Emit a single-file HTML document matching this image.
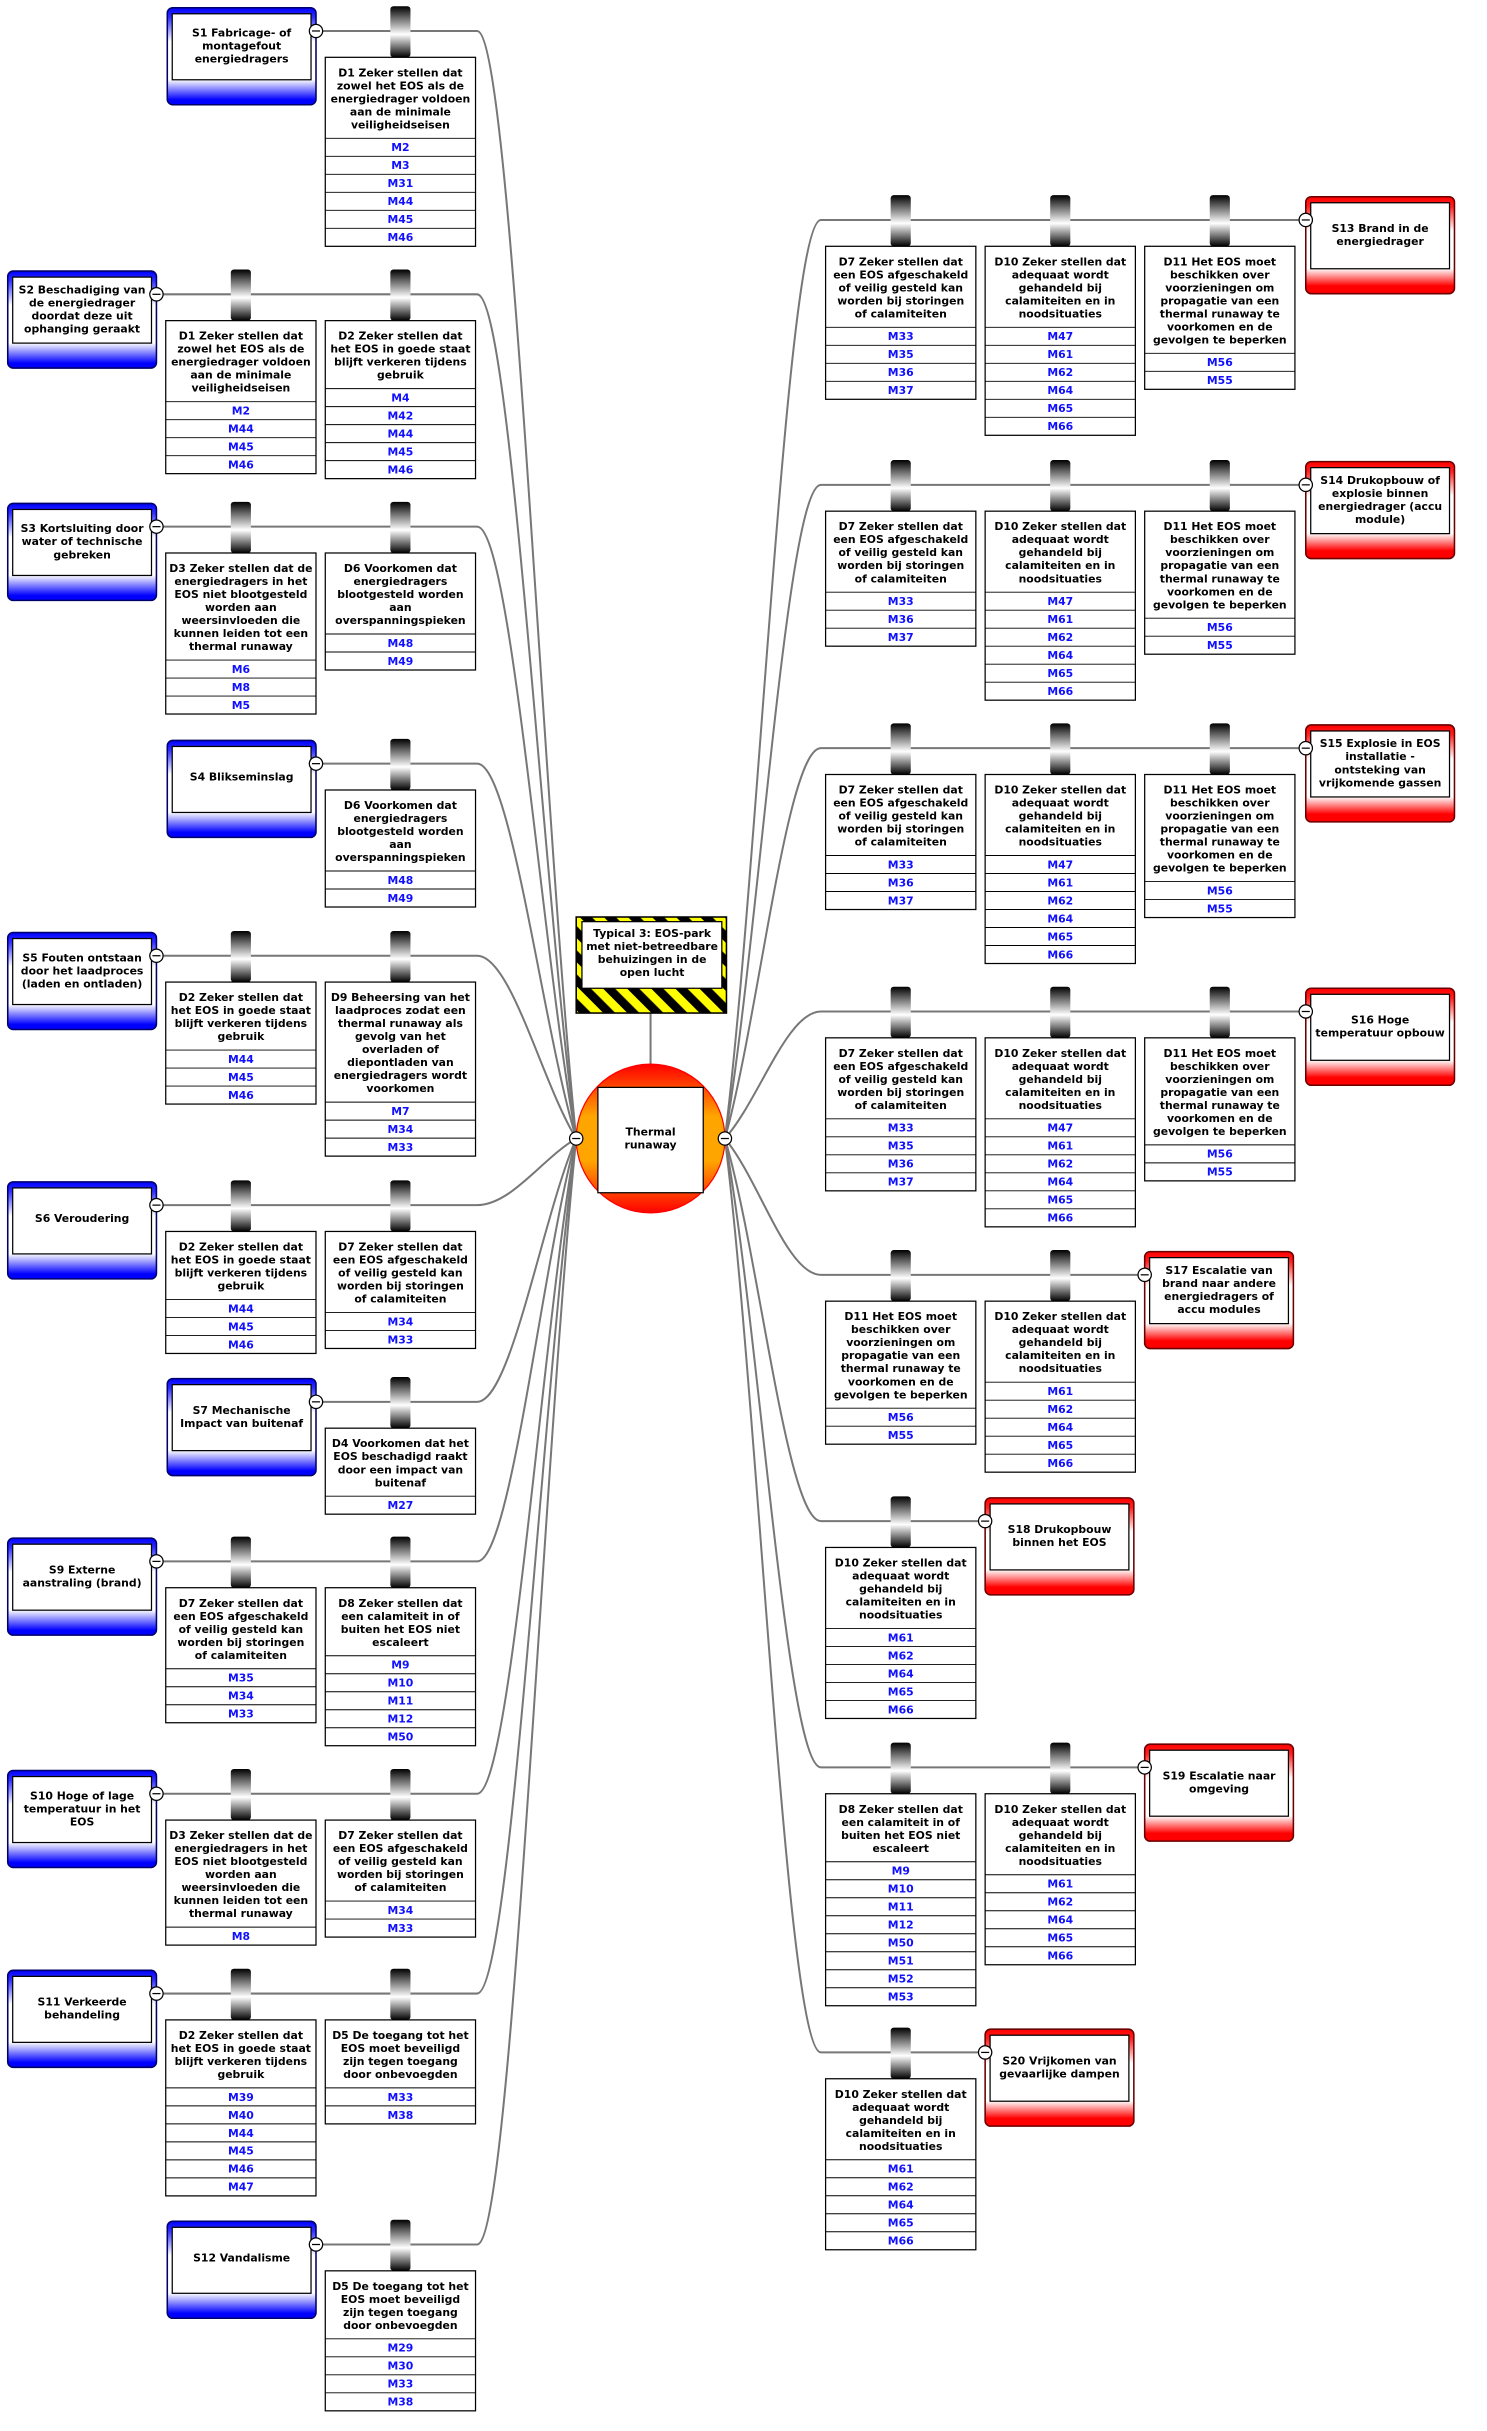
<!DOCTYPE html>
<html><head><meta charset="utf-8"><style>
html,body{margin:0;padding:0;background:#fff;}
svg{display:block}
.t{font-family:"DejaVu Sans","Liberation Sans",sans-serif;font-weight:bold;font-size:7px;text-anchor:middle;fill:#000}
.m{fill:#1010ff}
.b{fill:#fff;stroke:#000;stroke-width:.8}
.r{stroke:#000;stroke-width:.6;fill:none}
.c{fill:none;stroke:#777;stroke-width:1.3}
</style></head><body>
<svg width="1487" height="2431" viewBox="0 0 960 1569.4" preserveAspectRatio="none" xmlns="http://www.w3.org/2000/svg">
<defs>
<linearGradient id="pg" x1="0" y1="0" x2="0" y2="1"><stop offset="0" stop-color="#000"/><stop offset="0.55" stop-color="#fff"/><stop offset="1" stop-color="#000"/></linearGradient>
<linearGradient id="bg" x1="0" y1="0" x2="0" y2="1"><stop offset="0" stop-color="#0000ff"/><stop offset="0.1" stop-color="#3030ff"/><stop offset="0.35" stop-color="#fff"/><stop offset="0.74" stop-color="#fff"/><stop offset="0.95" stop-color="#0000ff"/></linearGradient>
<linearGradient id="rg" x1="0" y1="0" x2="0" y2="1"><stop offset="0" stop-color="#ff0000"/><stop offset="0.1" stop-color="#ff2020"/><stop offset="0.35" stop-color="#fff"/><stop offset="0.74" stop-color="#fff"/><stop offset="0.92" stop-color="#ff0000"/></linearGradient>
<linearGradient id="og" x1="0" y1="0" x2="0" y2="1"><stop offset="0" stop-color="#ff0000"/><stop offset="0.35" stop-color="#ffa500"/><stop offset="0.65" stop-color="#ffa500"/><stop offset="1" stop-color="#ff0000"/></linearGradient>
<pattern id="hz" width="11" height="11" patternUnits="userSpaceOnUse" patternTransform="rotate(-45)"><rect width="11" height="11" fill="#ffff00"/><rect width="5.5" height="11" fill="#000"/></pattern>
<g id="pipe"><rect x="-6.5" y="-16" width="13" height="33" rx="2" fill="url(#pg)"/></g>
<g id="tb"><rect x="0" y="0" width="96" height="62.6" rx="3.5" fill="url(#bg)" stroke="#00006a" stroke-width="1"/><rect x="3.2" y="3.9" width="89.6" height="42.6" fill="#fff" stroke="#000" stroke-width=".8"/></g>
<g id="tr"><rect x="0" y="0" width="96" height="62.6" rx="3.5" fill="url(#rg)" stroke="#6a0000" stroke-width="1"/><rect x="3.2" y="3.9" width="89.6" height="42.6" fill="#fff" stroke="#000" stroke-width=".8"/></g>
<g id="cn"><circle r="4.3" fill="#fff" stroke="#000" stroke-width=".8"/><path d="M-2.6 0h5.2" stroke="#000" stroke-width=".8"/></g>
</defs>

<!-- connectors lines left -->
<path class="c" d="M204 20H308C330 20 350 520.5 372 735"/>
<path class="c" d="M101 190H308C330 190 350 571.5 372 735"/>
<path class="c" d="M101 340H308C330 340 350 616.5 372 735"/>
<path class="c" d="M204 493H308C330 493 350 662.4 372 735"/>
<path class="c" d="M101 617H308C330 617 350 699.6 372 735"/>
<path class="c" d="M101 778H308C330 778 350 747.9 372 735"/>
<path class="c" d="M204 905H308C330 905 350 786 372 735"/>
<path class="c" d="M101 1008H308C330 1008 350 813.9 372 735"/>
<path class="c" d="M101 1158H308C330 1158 350 858.3 372 735"/>
<path class="c" d="M101 1287H308C330 1287 350 897 372 735"/>
<path class="c" d="M204 1449H308C330 1449 350 949.2 372 735"/>
<!-- right -->
<path class="c" d="M468 735C490 557.1 508 142 530 142H843"/>
<path class="c" d="M468 735C490 605.4 508 313 530 313H843"/>
<path class="c" d="M468 735C490 656.4 508 483 530 483H843"/>
<path class="c" d="M468 735C490 710.4 508 653 530 653H843"/>
<path class="c" d="M468 735C490 761.4 508 823 530 823H739"/>
<path class="c" d="M468 735C490 809.1 508 982 530 982H636"/>
<path class="c" d="M468 735C490 856.5 508 1141 530 1141H739"/>
<path class="c" d="M468 735C490 912 508 1325 530 1325H636"/>
<path class="c" d="M420 654V690"/>

<!-- center -->
<rect x="372" y="592" width="97" height="62" fill="url(#hz)" stroke="#000" stroke-width="1"/>
<rect x="375.7" y="595" width="90.3" height="43" fill="#fff" stroke="#000" stroke-width=".8"/>
<text class="t" y="605"><tspan x="421">Typical 3: EOS-park</tspan><tspan x="421" dy="8.4">met niet-betreedbare</tspan><tspan x="421" dy="8.4">behuizingen in de</tspan><tspan x="421" dy="8.4">open lucht</tspan></text>
<circle cx="420" cy="735" r="48" fill="url(#og)" stroke="#f00" stroke-width=".8"/>
<rect x="386" y="702" width="68" height="68" fill="#fff" stroke="#000" stroke-width=".8"/>
<text class="t" y="733"><tspan x="420">Thermal</tspan><tspan x="420" dy="8.4">runaway</tspan></text>
<use href="#cn" x="372" y="735"/><use href="#cn" x="468" y="735"/>

<!-- threats -->
<use href="#tb" x="108" y="5"/><text class="t" y="23.6"><tspan x="156">S1 Fabricage- of</tspan><tspan x="156" dy="8.4">montagefout</tspan><tspan x="156" dy="8.4">energiedragers</tspan></text><use href="#cn" x="204" y="20"/>
<use href="#tb" x="5" y="175"/><text class="t" y="189.4"><tspan x="53">S2 Beschadiging van</tspan><tspan x="53" dy="8.4">de energiedrager</tspan><tspan x="53" dy="8.4">doordat deze uit</tspan><tspan x="53" dy="8.4">ophanging geraakt</tspan></text><use href="#cn" x="101" y="190"/>
<use href="#tb" x="5" y="325"/><text class="t" y="343.6"><tspan x="53">S3 Kortsluiting door</tspan><tspan x="53" dy="8.4">water of technische</tspan><tspan x="53" dy="8.4">gebreken</tspan></text><use href="#cn" x="101" y="340"/>
<use href="#tb" x="108" y="478"/><text class="t" y="504"><tspan x="156">S4 Blikseminslag</tspan></text><use href="#cn" x="204" y="493"/>
<use href="#tb" x="5" y="602"/><text class="t" y="620.6"><tspan x="53">S5 Fouten ontstaan</tspan><tspan x="53" dy="8.4">door het laadproces</tspan><tspan x="53" dy="8.4">(laden en ontladen)</tspan></text><use href="#cn" x="101" y="617"/>
<use href="#tb" x="5" y="763"/><text class="t" y="789"><tspan x="53">S6 Veroudering</tspan></text><use href="#cn" x="101" y="778"/>
<use href="#tb" x="108" y="890"/><text class="t" y="912.8"><tspan x="156">S7 Mechanische</tspan><tspan x="156" dy="8.4">Impact van buitenaf</tspan></text><use href="#cn" x="204" y="905"/>
<use href="#tb" x="5" y="993"/><text class="t" y="1015.8"><tspan x="53">S9 Externe</tspan><tspan x="53" dy="8.4">aanstraling (brand)</tspan></text><use href="#cn" x="101" y="1008"/>
<use href="#tb" x="5" y="1143"/><text class="t" y="1161.6"><tspan x="53">S10 Hoge of lage</tspan><tspan x="53" dy="8.4">temperatuur in het</tspan><tspan x="53" dy="8.4">EOS</tspan></text><use href="#cn" x="101" y="1158"/>
<use href="#tb" x="5" y="1272"/><text class="t" y="1294.8"><tspan x="53">S11 Verkeerde</tspan><tspan x="53" dy="8.4">behandeling</tspan></text><use href="#cn" x="101" y="1287"/>
<use href="#tb" x="108" y="1434"/><text class="t" y="1460"><tspan x="156">S12 Vandalisme</tspan></text><use href="#cn" x="204" y="1449"/>

<!-- consequences -->
<use href="#tr" x="843" y="127"/><text class="t" y="149.8"><tspan x="891">S13 Brand in de</tspan><tspan x="891" dy="8.4">energiedrager</tspan></text><use href="#cn" x="843" y="142"/>
<use href="#tr" x="843" y="298"/><text class="t" y="312.4"><tspan x="891">S14 Drukopbouw of</tspan><tspan x="891" dy="8.4">explosie binnen</tspan><tspan x="891" dy="8.4">energiedrager (accu</tspan><tspan x="891" dy="8.4">module)</tspan></text><use href="#cn" x="843" y="313"/>
<use href="#tr" x="843" y="468"/><text class="t" y="482.4"><tspan x="891">S15 Explosie in EOS</tspan><tspan x="891" dy="8.4">installatie -</tspan><tspan x="891" dy="8.4">ontsteking van</tspan><tspan x="891" dy="8.4">vrijkomende gassen</tspan></text><use href="#cn" x="843" y="483"/>
<use href="#tr" x="843" y="638"/><text class="t" y="660.8"><tspan x="891">S16 Hoge</tspan><tspan x="891" dy="8.4">temperatuur opbouw</tspan></text><use href="#cn" x="843" y="653"/>
<use href="#tr" x="739" y="808"/><text class="t" y="822.4"><tspan x="787">S17 Escalatie van</tspan><tspan x="787" dy="8.4">brand naar andere</tspan><tspan x="787" dy="8.4">energiedragers of</tspan><tspan x="787" dy="8.4">accu modules</tspan></text><use href="#cn" x="739" y="823"/>
<use href="#tr" x="636" y="967"/><text class="t" y="989.8"><tspan x="684">S18 Drukopbouw</tspan><tspan x="684" dy="8.4">binnen het EOS</tspan></text><use href="#cn" x="636" y="982"/>
<use href="#tr" x="739" y="1126"/><text class="t" y="1148.8"><tspan x="787">S19 Escalatie naar</tspan><tspan x="787" dy="8.4">omgeving</tspan></text><use href="#cn" x="739" y="1141"/>
<use href="#tr" x="636" y="1310"/><text class="t" y="1332.8"><tspan x="684">S20 Vrijkomen van</tspan><tspan x="684" dy="8.4">gevaarlijke dampen</tspan></text><use href="#cn" x="636" y="1325"/>

<!-- LEFT BARRIERS -->
<!-- S1 D1 -->
<g transform="translate(258.5,20)"><use href="#pipe"/><rect class="b" x="-48.5" y="17" width="97" height="122.02"/>
<text class="t" y="29.3"><tspan x="0">D1 Zeker stellen dat</tspan><tspan x="0" dy="8.4">zowel het EOS als de</tspan><tspan x="0" dy="8.4">energiedrager voldoen</tspan><tspan x="0" dy="8.4">aan de minimale</tspan><tspan x="0" dy="8.4">veiligheidseisen</tspan></text>
<path class="r" d="M-48.5 69.3h97M-48.5 80.92h97M-48.5 92.54h97M-48.5 104.16h97M-48.5 115.78h97M-48.5 127.4h97"/>
<text class="t m" y="77.6"><tspan x="0">M2</tspan><tspan x="0" dy="11.62">M3</tspan><tspan x="0" dy="11.62">M31</tspan><tspan x="0" dy="11.62">M44</tspan><tspan x="0" dy="11.62">M45</tspan><tspan x="0" dy="11.62">M46</tspan></text></g>
<!-- S2 D1 -->
<g transform="translate(155.5,190)"><use href="#pipe"/><rect class="b" x="-48.5" y="17" width="97" height="98.78"/>
<text class="t" y="29.3"><tspan x="0">D1 Zeker stellen dat</tspan><tspan x="0" dy="8.4">zowel het EOS als de</tspan><tspan x="0" dy="8.4">energiedrager voldoen</tspan><tspan x="0" dy="8.4">aan de minimale</tspan><tspan x="0" dy="8.4">veiligheidseisen</tspan></text>
<path class="r" d="M-48.5 69.3h97M-48.5 80.92h97M-48.5 92.54h97M-48.5 104.16h97"/>
<text class="t m" y="77.6"><tspan x="0">M2</tspan><tspan x="0" dy="11.62">M44</tspan><tspan x="0" dy="11.62">M45</tspan><tspan x="0" dy="11.62">M46</tspan></text></g>
<!-- S2 D2 -->
<g transform="translate(258.5,190)"><use href="#pipe"/><rect class="b" x="-48.5" y="17" width="97" height="102"/>
<text class="t" y="29.3"><tspan x="0">D2 Zeker stellen dat</tspan><tspan x="0" dy="8.4">het EOS in goede staat</tspan><tspan x="0" dy="8.4">blijft verkeren tijdens</tspan><tspan x="0" dy="8.4">gebruik</tspan></text>
<path class="r" d="M-48.5 60.9h97M-48.5 72.52h97M-48.5 84.14h97M-48.5 95.76h97M-48.5 107.38h97"/>
<text class="t m" y="69.2"><tspan x="0">M4</tspan><tspan x="0" dy="11.62">M42</tspan><tspan x="0" dy="11.62">M44</tspan><tspan x="0" dy="11.62">M45</tspan><tspan x="0" dy="11.62">M46</tspan></text></g>
<!-- S3 D3 -->
<g transform="translate(155.5,340)"><use href="#pipe"/><rect class="b" x="-48.5" y="17" width="97" height="103.96"/>
<text class="t" y="29.3"><tspan x="0">D3 Zeker stellen dat de</tspan><tspan x="0" dy="8.4">energiedragers in het</tspan><tspan x="0" dy="8.4">EOS niet blootgesteld</tspan><tspan x="0" dy="8.4">worden aan</tspan><tspan x="0" dy="8.4">weersinvloeden die</tspan><tspan x="0" dy="8.4">kunnen leiden tot een</tspan><tspan x="0" dy="8.4">thermal runaway</tspan></text>
<path class="r" d="M-48.5 86.1h97M-48.5 97.72h97M-48.5 109.34h97"/>
<text class="t m" y="94.4"><tspan x="0">M6</tspan><tspan x="0" dy="11.62">M8</tspan><tspan x="0" dy="11.62">M5</tspan></text></g>
<!-- S3 D6 -->
<g transform="translate(258.5,340)"><use href="#pipe"/><rect class="b" x="-48.5" y="17" width="97" height="75.54"/>
<text class="t" y="29.3"><tspan x="0">D6 Voorkomen dat</tspan><tspan x="0" dy="8.4">energiedragers</tspan><tspan x="0" dy="8.4">blootgesteld worden</tspan><tspan x="0" dy="8.4">aan</tspan><tspan x="0" dy="8.4">overspanningspieken</tspan></text>
<path class="r" d="M-48.5 69.3h97M-48.5 80.92h97"/>
<text class="t m" y="77.6"><tspan x="0">M48</tspan><tspan x="0" dy="11.62">M49</tspan></text></g>
<!-- S4 D6 -->
<g transform="translate(258.5,493)"><use href="#pipe"/><rect class="b" x="-48.5" y="17" width="97" height="75.54"/>
<text class="t" y="29.3"><tspan x="0">D6 Voorkomen dat</tspan><tspan x="0" dy="8.4">energiedragers</tspan><tspan x="0" dy="8.4">blootgesteld worden</tspan><tspan x="0" dy="8.4">aan</tspan><tspan x="0" dy="8.4">overspanningspieken</tspan></text>
<path class="r" d="M-48.5 69.3h97M-48.5 80.92h97"/>
<text class="t m" y="77.6"><tspan x="0">M48</tspan><tspan x="0" dy="11.62">M49</tspan></text></g>
<!-- S5 D2 -->
<g transform="translate(155.5,617)"><use href="#pipe"/><rect class="b" x="-48.5" y="17" width="97" height="78.76"/>
<text class="t" y="29.3"><tspan x="0">D2 Zeker stellen dat</tspan><tspan x="0" dy="8.4">het EOS in goede staat</tspan><tspan x="0" dy="8.4">blijft verkeren tijdens</tspan><tspan x="0" dy="8.4">gebruik</tspan></text>
<path class="r" d="M-48.5 60.9h97M-48.5 72.52h97M-48.5 84.14h97"/>
<text class="t m" y="69.2"><tspan x="0">M44</tspan><tspan x="0" dy="11.62">M45</tspan><tspan x="0" dy="11.62">M46</tspan></text></g>
<!-- S5 D9 -->
<g transform="translate(258.5,617)"><use href="#pipe"/><rect class="b" x="-48.5" y="17" width="97" height="112.36"/>
<text class="t" y="29.3"><tspan x="0">D9 Beheersing van het</tspan><tspan x="0" dy="8.4">laadproces zodat een</tspan><tspan x="0" dy="8.4">thermal runaway als</tspan><tspan x="0" dy="8.4">gevolg van het</tspan><tspan x="0" dy="8.4">overladen of</tspan><tspan x="0" dy="8.4">diepontladen van</tspan><tspan x="0" dy="8.4">energiedragers wordt</tspan><tspan x="0" dy="8.4">voorkomen</tspan></text>
<path class="r" d="M-48.5 94.5h97M-48.5 106.12h97M-48.5 117.74h97"/>
<text class="t m" y="102.8"><tspan x="0">M7</tspan><tspan x="0" dy="11.62">M34</tspan><tspan x="0" dy="11.62">M33</tspan></text></g>
<!-- S6 D2 -->
<g transform="translate(155.5,778)"><use href="#pipe"/><rect class="b" x="-48.5" y="17" width="97" height="78.76"/>
<text class="t" y="29.3"><tspan x="0">D2 Zeker stellen dat</tspan><tspan x="0" dy="8.4">het EOS in goede staat</tspan><tspan x="0" dy="8.4">blijft verkeren tijdens</tspan><tspan x="0" dy="8.4">gebruik</tspan></text>
<path class="r" d="M-48.5 60.9h97M-48.5 72.52h97M-48.5 84.14h97"/>
<text class="t m" y="69.2"><tspan x="0">M44</tspan><tspan x="0" dy="11.62">M45</tspan><tspan x="0" dy="11.62">M46</tspan></text></g>
<!-- S6 D7 -->
<g transform="translate(258.5,778)"><use href="#pipe"/><rect class="b" x="-48.5" y="17" width="97" height="75.54"/>
<text class="t" y="29.3"><tspan x="0">D7 Zeker stellen dat</tspan><tspan x="0" dy="8.4">een EOS afgeschakeld</tspan><tspan x="0" dy="8.4">of veilig gesteld kan</tspan><tspan x="0" dy="8.4">worden bij storingen</tspan><tspan x="0" dy="8.4">of calamiteiten</tspan></text>
<path class="r" d="M-48.5 69.3h97M-48.5 80.92h97"/>
<text class="t m" y="77.6"><tspan x="0">M34</tspan><tspan x="0" dy="11.62">M33</tspan></text></g>
<!-- S7 D4 -->
<g transform="translate(258.5,905)"><use href="#pipe"/><rect class="b" x="-48.5" y="17" width="97" height="55.52"/>
<text class="t" y="29.3"><tspan x="0">D4 Voorkomen dat het</tspan><tspan x="0" dy="8.4">EOS beschadigd raakt</tspan><tspan x="0" dy="8.4">door een impact van</tspan><tspan x="0" dy="8.4">buitenaf</tspan></text>
<path class="r" d="M-48.5 60.9h97"/>
<text class="t m" y="69.2"><tspan x="0">M27</tspan></text></g>
<!-- S9 D7 -->
<g transform="translate(155.5,1008)"><use href="#pipe"/><rect class="b" x="-48.5" y="17" width="97" height="87.16"/>
<text class="t" y="29.3"><tspan x="0">D7 Zeker stellen dat</tspan><tspan x="0" dy="8.4">een EOS afgeschakeld</tspan><tspan x="0" dy="8.4">of veilig gesteld kan</tspan><tspan x="0" dy="8.4">worden bij storingen</tspan><tspan x="0" dy="8.4">of calamiteiten</tspan></text>
<path class="r" d="M-48.5 69.3h97M-48.5 80.92h97M-48.5 92.54h97"/>
<text class="t m" y="77.6"><tspan x="0">M35</tspan><tspan x="0" dy="11.62">M34</tspan><tspan x="0" dy="11.62">M33</tspan></text></g>
<!-- S9 D8 -->
<g transform="translate(258.5,1008)"><use href="#pipe"/><rect class="b" x="-48.5" y="17" width="97" height="102"/>
<text class="t" y="29.3"><tspan x="0">D8 Zeker stellen dat</tspan><tspan x="0" dy="8.4">een calamiteit in of</tspan><tspan x="0" dy="8.4">buiten het EOS niet</tspan><tspan x="0" dy="8.4">escaleert</tspan></text>
<path class="r" d="M-48.5 60.9h97M-48.5 72.52h97M-48.5 84.14h97M-48.5 95.76h97M-48.5 107.38h97"/>
<text class="t m" y="69.2"><tspan x="0">M9</tspan><tspan x="0" dy="11.62">M10</tspan><tspan x="0" dy="11.62">M11</tspan><tspan x="0" dy="11.62">M12</tspan><tspan x="0" dy="11.62">M50</tspan></text></g>
<!-- S10 D3 -->
<g transform="translate(155.5,1158)"><use href="#pipe"/><rect class="b" x="-48.5" y="17" width="97" height="80.72"/>
<text class="t" y="29.3"><tspan x="0">D3 Zeker stellen dat de</tspan><tspan x="0" dy="8.4">energiedragers in het</tspan><tspan x="0" dy="8.4">EOS niet blootgesteld</tspan><tspan x="0" dy="8.4">worden aan</tspan><tspan x="0" dy="8.4">weersinvloeden die</tspan><tspan x="0" dy="8.4">kunnen leiden tot een</tspan><tspan x="0" dy="8.4">thermal runaway</tspan></text>
<path class="r" d="M-48.5 86.1h97"/>
<text class="t m" y="94.4"><tspan x="0">M8</tspan></text></g>
<!-- S10 D7 -->
<g transform="translate(258.5,1158)"><use href="#pipe"/><rect class="b" x="-48.5" y="17" width="97" height="75.54"/>
<text class="t" y="29.3"><tspan x="0">D7 Zeker stellen dat</tspan><tspan x="0" dy="8.4">een EOS afgeschakeld</tspan><tspan x="0" dy="8.4">of veilig gesteld kan</tspan><tspan x="0" dy="8.4">worden bij storingen</tspan><tspan x="0" dy="8.4">of calamiteiten</tspan></text>
<path class="r" d="M-48.5 69.3h97M-48.5 80.92h97"/>
<text class="t m" y="77.6"><tspan x="0">M34</tspan><tspan x="0" dy="11.62">M33</tspan></text></g>
<!-- S11 D2 -->
<g transform="translate(155.5,1287)"><use href="#pipe"/><rect class="b" x="-48.5" y="17" width="97" height="113.62"/>
<text class="t" y="29.3"><tspan x="0">D2 Zeker stellen dat</tspan><tspan x="0" dy="8.4">het EOS in goede staat</tspan><tspan x="0" dy="8.4">blijft verkeren tijdens</tspan><tspan x="0" dy="8.4">gebruik</tspan></text>
<path class="r" d="M-48.5 60.9h97M-48.5 72.52h97M-48.5 84.14h97M-48.5 95.76h97M-48.5 107.38h97M-48.5 119h97"/>
<text class="t m" y="69.2"><tspan x="0">M39</tspan><tspan x="0" dy="11.62">M40</tspan><tspan x="0" dy="11.62">M44</tspan><tspan x="0" dy="11.62">M45</tspan><tspan x="0" dy="11.62">M46</tspan><tspan x="0" dy="11.62">M47</tspan></text></g>
<!-- S11 D5 -->
<g transform="translate(258.5,1287)"><use href="#pipe"/><rect class="b" x="-48.5" y="17" width="97" height="67.14"/>
<text class="t" y="29.3"><tspan x="0">D5 De toegang tot het</tspan><tspan x="0" dy="8.4">EOS moet beveiligd</tspan><tspan x="0" dy="8.4">zijn tegen toegang</tspan><tspan x="0" dy="8.4">door onbevoegden</tspan></text>
<path class="r" d="M-48.5 60.9h97M-48.5 72.52h97"/>
<text class="t m" y="69.2"><tspan x="0">M33</tspan><tspan x="0" dy="11.62">M38</tspan></text></g>
<!-- S12 D5 -->
<g transform="translate(258.5,1449)"><use href="#pipe"/><rect class="b" x="-48.5" y="17" width="97" height="90.38"/>
<text class="t" y="29.3"><tspan x="0">D5 De toegang tot het</tspan><tspan x="0" dy="8.4">EOS moet beveiligd</tspan><tspan x="0" dy="8.4">zijn tegen toegang</tspan><tspan x="0" dy="8.4">door onbevoegden</tspan></text>
<path class="r" d="M-48.5 60.9h97M-48.5 72.52h97M-48.5 84.14h97M-48.5 95.76h97"/>
<text class="t m" y="69.2"><tspan x="0">M29</tspan><tspan x="0" dy="11.62">M30</tspan><tspan x="0" dy="11.62">M33</tspan><tspan x="0" dy="11.62">M38</tspan></text></g>

<!-- RIGHT BARRIERS -->
<!-- S13 -->
<g transform="translate(581.5,142)"><use href="#pipe"/><rect class="b" x="-48.5" y="17" width="97" height="98.78"/>
<text class="t" y="29.3"><tspan x="0">D7 Zeker stellen dat</tspan><tspan x="0" dy="8.4">een EOS afgeschakeld</tspan><tspan x="0" dy="8.4">of veilig gesteld kan</tspan><tspan x="0" dy="8.4">worden bij storingen</tspan><tspan x="0" dy="8.4">of calamiteiten</tspan></text>
<path class="r" d="M-48.5 69.3h97M-48.5 80.92h97M-48.5 92.54h97M-48.5 104.16h97"/>
<text class="t m" y="77.6"><tspan x="0">M33</tspan><tspan x="0" dy="11.62">M35</tspan><tspan x="0" dy="11.62">M36</tspan><tspan x="0" dy="11.62">M37</tspan></text></g>
<g transform="translate(684.5,142)"><use href="#pipe"/><rect class="b" x="-48.5" y="17" width="97" height="122.02"/>
<text class="t" y="29.3"><tspan x="0">D10 Zeker stellen dat</tspan><tspan x="0" dy="8.4">adequaat wordt</tspan><tspan x="0" dy="8.4">gehandeld bij</tspan><tspan x="0" dy="8.4">calamiteiten en in</tspan><tspan x="0" dy="8.4">noodsituaties</tspan></text>
<path class="r" d="M-48.5 69.3h97M-48.5 80.92h97M-48.5 92.54h97M-48.5 104.16h97M-48.5 115.78h97M-48.5 127.4h97"/>
<text class="t m" y="77.6"><tspan x="0">M47</tspan><tspan x="0" dy="11.62">M61</tspan><tspan x="0" dy="11.62">M62</tspan><tspan x="0" dy="11.62">M64</tspan><tspan x="0" dy="11.62">M65</tspan><tspan x="0" dy="11.62">M66</tspan></text></g>
<g transform="translate(787.5,142)"><use href="#pipe"/><rect class="b" x="-48.5" y="17" width="97" height="92.34"/>
<text class="t" y="29.3"><tspan x="0">D11 Het EOS moet</tspan><tspan x="0" dy="8.4">beschikken over</tspan><tspan x="0" dy="8.4">voorzieningen om</tspan><tspan x="0" dy="8.4">propagatie van een</tspan><tspan x="0" dy="8.4">thermal runaway te</tspan><tspan x="0" dy="8.4">voorkomen en de</tspan><tspan x="0" dy="8.4">gevolgen te beperken</tspan></text>
<path class="r" d="M-48.5 86.1h97M-48.5 97.72h97"/>
<text class="t m" y="94.4"><tspan x="0">M56</tspan><tspan x="0" dy="11.62">M55</tspan></text></g>
<!-- S14 -->
<g transform="translate(581.5,313)"><use href="#pipe"/><rect class="b" x="-48.5" y="17" width="97" height="87.16"/>
<text class="t" y="29.3"><tspan x="0">D7 Zeker stellen dat</tspan><tspan x="0" dy="8.4">een EOS afgeschakeld</tspan><tspan x="0" dy="8.4">of veilig gesteld kan</tspan><tspan x="0" dy="8.4">worden bij storingen</tspan><tspan x="0" dy="8.4">of calamiteiten</tspan></text>
<path class="r" d="M-48.5 69.3h97M-48.5 80.92h97M-48.5 92.54h97"/>
<text class="t m" y="77.6"><tspan x="0">M33</tspan><tspan x="0" dy="11.62">M36</tspan><tspan x="0" dy="11.62">M37</tspan></text></g>
<g transform="translate(684.5,313)"><use href="#pipe"/><rect class="b" x="-48.5" y="17" width="97" height="122.02"/>
<text class="t" y="29.3"><tspan x="0">D10 Zeker stellen dat</tspan><tspan x="0" dy="8.4">adequaat wordt</tspan><tspan x="0" dy="8.4">gehandeld bij</tspan><tspan x="0" dy="8.4">calamiteiten en in</tspan><tspan x="0" dy="8.4">noodsituaties</tspan></text>
<path class="r" d="M-48.5 69.3h97M-48.5 80.92h97M-48.5 92.54h97M-48.5 104.16h97M-48.5 115.78h97M-48.5 127.4h97"/>
<text class="t m" y="77.6"><tspan x="0">M47</tspan><tspan x="0" dy="11.62">M61</tspan><tspan x="0" dy="11.62">M62</tspan><tspan x="0" dy="11.62">M64</tspan><tspan x="0" dy="11.62">M65</tspan><tspan x="0" dy="11.62">M66</tspan></text></g>
<g transform="translate(787.5,313)"><use href="#pipe"/><rect class="b" x="-48.5" y="17" width="97" height="92.34"/>
<text class="t" y="29.3"><tspan x="0">D11 Het EOS moet</tspan><tspan x="0" dy="8.4">beschikken over</tspan><tspan x="0" dy="8.4">voorzieningen om</tspan><tspan x="0" dy="8.4">propagatie van een</tspan><tspan x="0" dy="8.4">thermal runaway te</tspan><tspan x="0" dy="8.4">voorkomen en de</tspan><tspan x="0" dy="8.4">gevolgen te beperken</tspan></text>
<path class="r" d="M-48.5 86.1h97M-48.5 97.72h97"/>
<text class="t m" y="94.4"><tspan x="0">M56</tspan><tspan x="0" dy="11.62">M55</tspan></text></g>
<!-- S15 -->
<g transform="translate(581.5,483)"><use href="#pipe"/><rect class="b" x="-48.5" y="17" width="97" height="87.16"/>
<text class="t" y="29.3"><tspan x="0">D7 Zeker stellen dat</tspan><tspan x="0" dy="8.4">een EOS afgeschakeld</tspan><tspan x="0" dy="8.4">of veilig gesteld kan</tspan><tspan x="0" dy="8.4">worden bij storingen</tspan><tspan x="0" dy="8.4">of calamiteiten</tspan></text>
<path class="r" d="M-48.5 69.3h97M-48.5 80.92h97M-48.5 92.54h97"/>
<text class="t m" y="77.6"><tspan x="0">M33</tspan><tspan x="0" dy="11.62">M36</tspan><tspan x="0" dy="11.62">M37</tspan></text></g>
<g transform="translate(684.5,483)"><use href="#pipe"/><rect class="b" x="-48.5" y="17" width="97" height="122.02"/>
<text class="t" y="29.3"><tspan x="0">D10 Zeker stellen dat</tspan><tspan x="0" dy="8.4">adequaat wordt</tspan><tspan x="0" dy="8.4">gehandeld bij</tspan><tspan x="0" dy="8.4">calamiteiten en in</tspan><tspan x="0" dy="8.4">noodsituaties</tspan></text>
<path class="r" d="M-48.5 69.3h97M-48.5 80.92h97M-48.5 92.54h97M-48.5 104.16h97M-48.5 115.78h97M-48.5 127.4h97"/>
<text class="t m" y="77.6"><tspan x="0">M47</tspan><tspan x="0" dy="11.62">M61</tspan><tspan x="0" dy="11.62">M62</tspan><tspan x="0" dy="11.62">M64</tspan><tspan x="0" dy="11.62">M65</tspan><tspan x="0" dy="11.62">M66</tspan></text></g>
<g transform="translate(787.5,483)"><use href="#pipe"/><rect class="b" x="-48.5" y="17" width="97" height="92.34"/>
<text class="t" y="29.3"><tspan x="0">D11 Het EOS moet</tspan><tspan x="0" dy="8.4">beschikken over</tspan><tspan x="0" dy="8.4">voorzieningen om</tspan><tspan x="0" dy="8.4">propagatie van een</tspan><tspan x="0" dy="8.4">thermal runaway te</tspan><tspan x="0" dy="8.4">voorkomen en de</tspan><tspan x="0" dy="8.4">gevolgen te beperken</tspan></text>
<path class="r" d="M-48.5 86.1h97M-48.5 97.72h97"/>
<text class="t m" y="94.4"><tspan x="0">M56</tspan><tspan x="0" dy="11.62">M55</tspan></text></g>
<!-- S16 -->
<g transform="translate(581.5,653)"><use href="#pipe"/><rect class="b" x="-48.5" y="17" width="97" height="98.78"/>
<text class="t" y="29.3"><tspan x="0">D7 Zeker stellen dat</tspan><tspan x="0" dy="8.4">een EOS afgeschakeld</tspan><tspan x="0" dy="8.4">of veilig gesteld kan</tspan><tspan x="0" dy="8.4">worden bij storingen</tspan><tspan x="0" dy="8.4">of calamiteiten</tspan></text>
<path class="r" d="M-48.5 69.3h97M-48.5 80.92h97M-48.5 92.54h97M-48.5 104.16h97"/>
<text class="t m" y="77.6"><tspan x="0">M33</tspan><tspan x="0" dy="11.62">M35</tspan><tspan x="0" dy="11.62">M36</tspan><tspan x="0" dy="11.62">M37</tspan></text></g>
<g transform="translate(684.5,653)"><use href="#pipe"/><rect class="b" x="-48.5" y="17" width="97" height="122.02"/>
<text class="t" y="29.3"><tspan x="0">D10 Zeker stellen dat</tspan><tspan x="0" dy="8.4">adequaat wordt</tspan><tspan x="0" dy="8.4">gehandeld bij</tspan><tspan x="0" dy="8.4">calamiteiten en in</tspan><tspan x="0" dy="8.4">noodsituaties</tspan></text>
<path class="r" d="M-48.5 69.3h97M-48.5 80.92h97M-48.5 92.54h97M-48.5 104.16h97M-48.5 115.78h97M-48.5 127.4h97"/>
<text class="t m" y="77.6"><tspan x="0">M47</tspan><tspan x="0" dy="11.62">M61</tspan><tspan x="0" dy="11.62">M62</tspan><tspan x="0" dy="11.62">M64</tspan><tspan x="0" dy="11.62">M65</tspan><tspan x="0" dy="11.62">M66</tspan></text></g>
<g transform="translate(787.5,653)"><use href="#pipe"/><rect class="b" x="-48.5" y="17" width="97" height="92.34"/>
<text class="t" y="29.3"><tspan x="0">D11 Het EOS moet</tspan><tspan x="0" dy="8.4">beschikken over</tspan><tspan x="0" dy="8.4">voorzieningen om</tspan><tspan x="0" dy="8.4">propagatie van een</tspan><tspan x="0" dy="8.4">thermal runaway te</tspan><tspan x="0" dy="8.4">voorkomen en de</tspan><tspan x="0" dy="8.4">gevolgen te beperken</tspan></text>
<path class="r" d="M-48.5 86.1h97M-48.5 97.72h97"/>
<text class="t m" y="94.4"><tspan x="0">M56</tspan><tspan x="0" dy="11.62">M55</tspan></text></g>
<!-- S17 -->
<g transform="translate(581.5,823)"><use href="#pipe"/><rect class="b" x="-48.5" y="17" width="97" height="92.34"/>
<text class="t" y="29.3"><tspan x="0">D11 Het EOS moet</tspan><tspan x="0" dy="8.4">beschikken over</tspan><tspan x="0" dy="8.4">voorzieningen om</tspan><tspan x="0" dy="8.4">propagatie van een</tspan><tspan x="0" dy="8.4">thermal runaway te</tspan><tspan x="0" dy="8.4">voorkomen en de</tspan><tspan x="0" dy="8.4">gevolgen te beperken</tspan></text>
<path class="r" d="M-48.5 86.1h97M-48.5 97.72h97"/>
<text class="t m" y="94.4"><tspan x="0">M56</tspan><tspan x="0" dy="11.62">M55</tspan></text></g>
<g transform="translate(684.5,823)"><use href="#pipe"/><rect class="b" x="-48.5" y="17" width="97" height="110.4"/>
<text class="t" y="29.3"><tspan x="0">D10 Zeker stellen dat</tspan><tspan x="0" dy="8.4">adequaat wordt</tspan><tspan x="0" dy="8.4">gehandeld bij</tspan><tspan x="0" dy="8.4">calamiteiten en in</tspan><tspan x="0" dy="8.4">noodsituaties</tspan></text>
<path class="r" d="M-48.5 69.3h97M-48.5 80.92h97M-48.5 92.54h97M-48.5 104.16h97M-48.5 115.78h97"/>
<text class="t m" y="77.6"><tspan x="0">M61</tspan><tspan x="0" dy="11.62">M62</tspan><tspan x="0" dy="11.62">M64</tspan><tspan x="0" dy="11.62">M65</tspan><tspan x="0" dy="11.62">M66</tspan></text></g>
<!-- S18 -->
<g transform="translate(581.5,982)"><use href="#pipe"/><rect class="b" x="-48.5" y="17" width="97" height="110.4"/>
<text class="t" y="29.3"><tspan x="0">D10 Zeker stellen dat</tspan><tspan x="0" dy="8.4">adequaat wordt</tspan><tspan x="0" dy="8.4">gehandeld bij</tspan><tspan x="0" dy="8.4">calamiteiten en in</tspan><tspan x="0" dy="8.4">noodsituaties</tspan></text>
<path class="r" d="M-48.5 69.3h97M-48.5 80.92h97M-48.5 92.54h97M-48.5 104.16h97M-48.5 115.78h97"/>
<text class="t m" y="77.6"><tspan x="0">M61</tspan><tspan x="0" dy="11.62">M62</tspan><tspan x="0" dy="11.62">M64</tspan><tspan x="0" dy="11.62">M65</tspan><tspan x="0" dy="11.62">M66</tspan></text></g>
<!-- S19 -->
<g transform="translate(581.5,1141)"><use href="#pipe"/><rect class="b" x="-48.5" y="17" width="97" height="136.86"/>
<text class="t" y="29.3"><tspan x="0">D8 Zeker stellen dat</tspan><tspan x="0" dy="8.4">een calamiteit in of</tspan><tspan x="0" dy="8.4">buiten het EOS niet</tspan><tspan x="0" dy="8.4">escaleert</tspan></text>
<path class="r" d="M-48.5 60.9h97M-48.5 72.52h97M-48.5 84.14h97M-48.5 95.76h97M-48.5 107.38h97M-48.5 119h97M-48.5 130.62h97M-48.5 142.24h97"/>
<text class="t m" y="69.2"><tspan x="0">M9</tspan><tspan x="0" dy="11.62">M10</tspan><tspan x="0" dy="11.62">M11</tspan><tspan x="0" dy="11.62">M12</tspan><tspan x="0" dy="11.62">M50</tspan><tspan x="0" dy="11.62">M51</tspan><tspan x="0" dy="11.62">M52</tspan><tspan x="0" dy="11.62">M53</tspan></text></g>
<g transform="translate(684.5,1141)"><use href="#pipe"/><rect class="b" x="-48.5" y="17" width="97" height="110.4"/>
<text class="t" y="29.3"><tspan x="0">D10 Zeker stellen dat</tspan><tspan x="0" dy="8.4">adequaat wordt</tspan><tspan x="0" dy="8.4">gehandeld bij</tspan><tspan x="0" dy="8.4">calamiteiten en in</tspan><tspan x="0" dy="8.4">noodsituaties</tspan></text>
<path class="r" d="M-48.5 69.3h97M-48.5 80.92h97M-48.5 92.54h97M-48.5 104.16h97M-48.5 115.78h97"/>
<text class="t m" y="77.6"><tspan x="0">M61</tspan><tspan x="0" dy="11.62">M62</tspan><tspan x="0" dy="11.62">M64</tspan><tspan x="0" dy="11.62">M65</tspan><tspan x="0" dy="11.62">M66</tspan></text></g>
<!-- S20 -->
<g transform="translate(581.5,1325)"><use href="#pipe"/><rect class="b" x="-48.5" y="17" width="97" height="110.4"/>
<text class="t" y="29.3"><tspan x="0">D10 Zeker stellen dat</tspan><tspan x="0" dy="8.4">adequaat wordt</tspan><tspan x="0" dy="8.4">gehandeld bij</tspan><tspan x="0" dy="8.4">calamiteiten en in</tspan><tspan x="0" dy="8.4">noodsituaties</tspan></text>
<path class="r" d="M-48.5 69.3h97M-48.5 80.92h97M-48.5 92.54h97M-48.5 104.16h97M-48.5 115.78h97"/>
<text class="t m" y="77.6"><tspan x="0">M61</tspan><tspan x="0" dy="11.62">M62</tspan><tspan x="0" dy="11.62">M64</tspan><tspan x="0" dy="11.62">M65</tspan><tspan x="0" dy="11.62">M66</tspan></text></g>
</svg>
</body></html>
